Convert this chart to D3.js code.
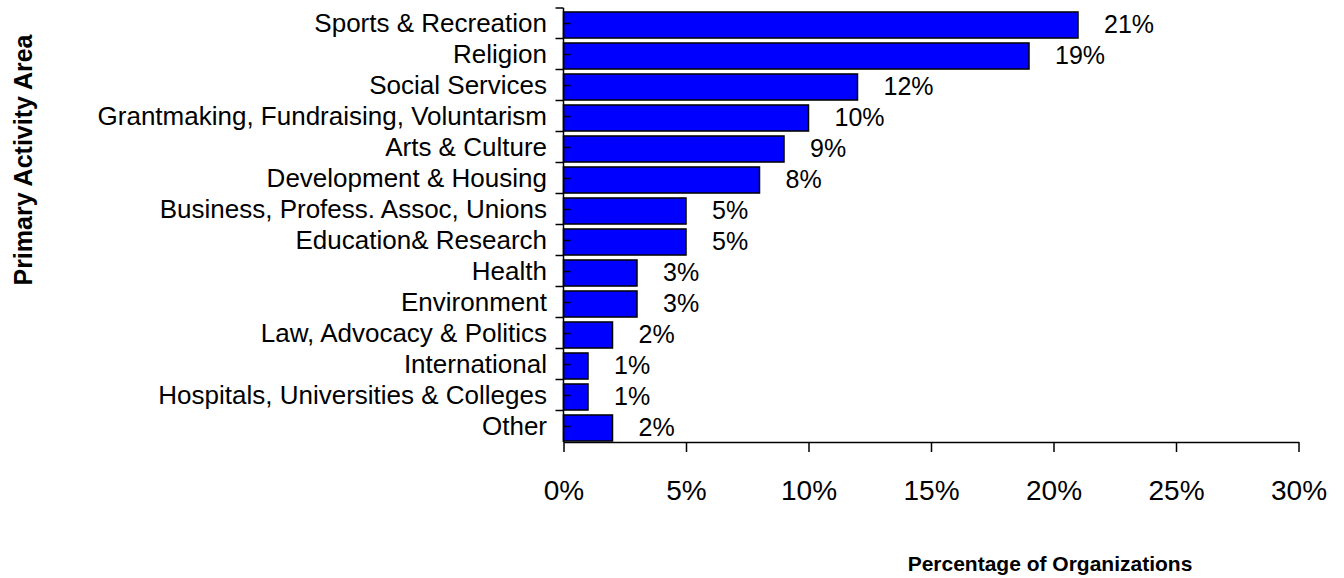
<!DOCTYPE html>
<html>
<head>
<meta charset="utf-8">
<script src="https://cdn.jsdelivr.net/npm/d3@7/dist/d3.min.js"></script>
<style>
  html, body { margin: 0; padding: 0; background: #fff; }
  svg { display: block; font-family: "Liberation Sans", Arial, sans-serif; }
</style>
</head>
<body>
<svg id="chart" width="1344" height="578"></svg>
<script>
const categories = [
  "Sports & Recreation",
  "Religion",
  "Social Services",
  "Grantmaking, Fundraising, Voluntarism",
  "Arts & Culture",
  "Development & Housing",
  "Business, Profess. Assoc, Unions",
  "Education& Research",
  "Health",
  "Environment",
  "Law, Advocacy & Politics",
  "International",
  "Hospitals, Universities & Colleges",
  "Other"
];
const values = [21, 19, 12, 10, 9, 8, 5, 5, 3, 3, 2, 1, 1, 2];
const xTicks = [0, 5, 10, 15, 20, 25, 30];
const xTitle = "Percentage of Organizations";
const yTitle = "Primary Activity Area";

const svg = d3.select("#chart");
const pLeft = 563.5, pRight = 1298.5, pTop = 8, pBottom = 442;

const x = d3.scaleLinear().domain([0, 30]).range([pLeft, pRight]);
const y = d3.scaleBand().domain(categories).range([pTop, pBottom]).paddingInner(0.16).paddingOuter(0.08);

// bars
svg.append("g").selectAll("rect")
  .data(categories)
  .join("rect")
  .attr("x", x(0))
  .attr("y", d => y(d) + 1.5)
  .attr("width", (d, i) => x(values[i]) - x(0))
  .attr("height", y.bandwidth())
  .attr("fill", "#0000FF")
  .attr("stroke", "#000")
  .attr("stroke-width", 1.5);

// x axis
const xAxis = d3.axisBottom(x)
  .tickValues(xTicks)
  .tickFormat(d => d + "%")
  .tickSize(10)
  .tickSizeOuter(0)
  .tickPadding(28);
const gx = svg.append("g").attr("transform", `translate(0,${pBottom})`).call(xAxis);
gx.select(".domain").attr("stroke", "#000").attr("stroke-width", 1.5);
gx.selectAll(".tick line").attr("stroke", "#000").attr("stroke-width", 1.5);
gx.selectAll(".tick text").attr("font-size", 28).attr("fill", "#000")
  .attr("font-family", "Liberation Sans, Arial, sans-serif");

// y axis line
const gy = svg.append("g");
gy.append("line").attr("x1", pLeft).attr("x2", pLeft).attr("y1", pTop).attr("y2", pBottom)
  .attr("stroke", "#000").attr("stroke-width", 1.5);
// band-edge ticks (outward)
const edges = categories.map(c => y(c) - y.step() * y.paddingInner() / 2 - 0.5);
edges[0] = pTop;
gy.selectAll("line.edge").data(edges).join("line").attr("class", "edge")
  .attr("x1", pLeft - 8).attr("x2", pLeft).attr("y1", d => d).attr("y2", d => d)
  .attr("stroke", "#000").attr("stroke-width", 1.5);
// center ticks (inward)
gy.selectAll("line.mid").data(categories).join("line").attr("class", "mid")
  .attr("x1", pLeft).attr("x2", pLeft + 7)
  .attr("y1", d => y(d) + y.bandwidth() / 2)
  .attr("y2", d => y(d) + y.bandwidth() / 2)
  .attr("stroke", "#000").attr("stroke-width", 1.5);
// category labels
gy.selectAll("text").data(categories).join("text")
  .attr("x", 547)
  .attr("y", d => y(d) + y.bandwidth() / 2 - 1)
  .attr("dy", "0.35em")
  .attr("text-anchor", "end")
  .attr("font-size", 26)
  .attr("fill", "#000")
  .text(d => d);

// value labels
svg.append("g").selectAll("text").data(categories).join("text")
  .attr("x", (d, i) => x(values[i]) + 26)
  .attr("y", d => y(d) + y.bandwidth() / 2 + 1)
  .attr("dy", "0.35em")
  .attr("font-size", 25)
  .attr("fill", "#000")
  .text((d, i) => values[i] + "%");

// axis titles
svg.append("text")
  .attr("x", 1050).attr("y", 571)
  .attr("text-anchor", "middle")
  .attr("font-size", 21).attr("font-weight", "bold")
  .text(xTitle);

svg.append("text")
  .attr("transform", "translate(32,160) rotate(-90)")
  .attr("text-anchor", "middle")
  .attr("font-size", 25).attr("font-weight", "bold")
  .text(yTitle);
</script>
</body>
</html>
